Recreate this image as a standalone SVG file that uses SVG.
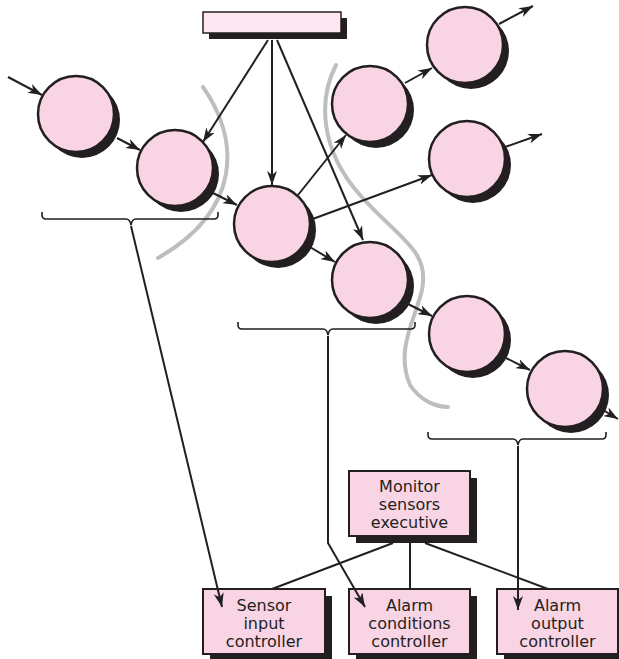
<svg xmlns="http://www.w3.org/2000/svg" width="619" height="659" viewBox="0 0 619 659">
<defs>
<style>
.shadow{fill:#231f20}
.node{fill:#f9d4e5;stroke:#231f20;stroke-width:2.5}
.box{fill:#f9d4e5;stroke:#231f20;stroke-width:2}
.bar{fill:#fde8f1;stroke:#231f20;stroke-width:1.5}
.edge{fill:none;stroke:#231f20;stroke-width:2}
.brace{fill:none;stroke:#231f20;stroke-width:1.6}
.curve{fill:none;stroke:#bcbec0;stroke-width:4;stroke-linecap:round}
.label{font-family:"DejaVu Sans","Liberation Sans",sans-serif;font-size:16px;fill:#231f20;text-anchor:middle}
</style>
<marker id="ah" viewBox="0 0 14 10" refX="14" refY="5" markerWidth="14" markerHeight="10" markerUnits="userSpaceOnUse" orient="auto">
<path d="M0,0 L14,5 L0,10 L4,5 z" fill="#231f20"/>
</marker>
</defs>
<rect width="619" height="659" fill="#ffffff"/>
<g id="partitions">
<path class="curve" d="M203,87 C240,140 242,210 158,258"/>
<path class="curve" d="M336,65 C318,100 320,150 360,195 C400,240 430,250 422,290 C415,320 395,350 410,385 C420,400 435,407 448,407"/>
</g>
<g id="source">
<rect class="shadow" x="209" y="18" width="138" height="21"/>
<rect class="bar" x="203" y="12" width="138" height="21"/>
</g>
<g id="c1"><circle class="shadow" cx="82" cy="120" r="38"/><circle class="node" cx="76" cy="114" r="38"/></g>
<g id="c2"><circle class="shadow" cx="181" cy="174" r="38"/><circle class="node" cx="175" cy="168" r="38"/></g>
<g id="c3"><circle class="shadow" cx="278" cy="230" r="38"/><circle class="node" cx="272" cy="224" r="38"/></g>
<g id="c4"><circle class="shadow" cx="376" cy="110" r="38"/><circle class="node" cx="370" cy="104" r="38"/></g>
<g id="c5"><circle class="shadow" cx="471" cy="51" r="38"/><circle class="node" cx="465" cy="45" r="38"/></g>
<g id="c6"><circle class="shadow" cx="473" cy="165" r="38"/><circle class="node" cx="467" cy="159" r="38"/></g>
<g id="c7"><circle class="shadow" cx="376" cy="286" r="38"/><circle class="node" cx="370" cy="280" r="38"/></g>
<g id="c8"><circle class="shadow" cx="473" cy="340" r="38"/><circle class="node" cx="467" cy="334" r="38"/></g>
<g id="c9"><circle class="shadow" cx="571" cy="395" r="38"/><circle class="node" cx="565" cy="389" r="38"/></g>
<g id="monitor">
<rect class="shadow" x="356" y="478" width="121" height="65"/>
<rect class="box" x="349" y="471" width="121" height="65"/>
<text class="label" x="409.5" y="492">Monitor</text>
<text class="label" x="409.5" y="510">sensors</text>
<text class="label" x="409.5" y="528">executive</text>
</g>
<g id="sensor-input">
<rect class="shadow" x="210" y="596" width="122" height="65"/>
<rect class="box" x="203" y="589" width="122" height="65"/>
<text class="label" x="264" y="611">Sensor</text>
<text class="label" x="264" y="629">input</text>
<text class="label" x="264" y="647">controller</text>
</g>
<g id="alarm-conditions">
<rect class="shadow" x="356" y="596" width="121" height="65"/>
<rect class="box" x="349" y="589" width="121" height="65"/>
<text class="label" x="409.5" y="611">Alarm</text>
<text class="label" x="409.5" y="629">conditions</text>
<text class="label" x="409.5" y="647">controller</text>
</g>
<g id="alarm-output">
<rect class="shadow" x="504" y="596" width="121" height="65"/>
<rect class="box" x="497" y="589" width="121" height="65"/>
<text class="label" x="557.5" y="611">Alarm</text>
<text class="label" x="557.5" y="629">output</text>
<text class="label" x="557.5" y="647">controller</text>
</g>
<g id="connectors">
<line class="edge" x1="8" y1="77" x2="42" y2="95" marker-end="url(#ah)"/>
<line class="edge" x1="117" y1="138" x2="140" y2="150" marker-end="url(#ah)"/>
<line class="edge" x1="268" y1="40" x2="203" y2="142" marker-end="url(#ah)"/>
<line class="edge" x1="272" y1="40" x2="272" y2="185" marker-end="url(#ah)"/>
<line class="edge" x1="277" y1="40" x2="363" y2="240" marker-end="url(#ah)"/>
<line class="edge" x1="213" y1="193" x2="237" y2="205" marker-end="url(#ah)"/>
<line class="edge" x1="298" y1="195" x2="346" y2="135" marker-end="url(#ah)"/>
<line class="edge" x1="310" y1="220" x2="432" y2="175" marker-end="url(#ah)"/>
<line class="edge" x1="310" y1="247" x2="335" y2="262" marker-end="url(#ah)"/>
<line class="edge" x1="405" y1="83" x2="432" y2="68" marker-end="url(#ah)"/>
<line class="edge" x1="499" y1="24" x2="533" y2="6" marker-end="url(#ah)"/>
<line class="edge" x1="505" y1="147" x2="542" y2="134" marker-end="url(#ah)"/>
<line class="edge" x1="408" y1="304" x2="432" y2="316" marker-end="url(#ah)"/>
<line class="edge" x1="506" y1="358" x2="530" y2="370" marker-end="url(#ah)"/>
<line class="edge" x1="603" y1="410" x2="618" y2="419" marker-end="url(#ah)"/>
<path class="brace" d="M42,212 L42,215 Q42,219 46,219 L126,219 Q130,219 131,225 Q132,219 136,219 L214,219 Q218,219 218,215 L218,212"/>
<path class="brace" d="M238,322 L238,325 Q238,329 242,329 L323,329 Q327,329 328,335 Q329,329 333,329 L411,329 Q415,329 415,325 L415,322"/>
<path class="brace" d="M428,432 L428,435 Q428,439 432,439 L513,439 Q517,439 518,445 Q519,439 523,439 L602,439 Q606,439 606,435 L606,432"/>
<line class="edge" x1="131" y1="226" x2="222" y2="607" marker-end="url(#ah)"/>
<path class="edge" d="M328,336 L328,543 L365,607" marker-end="url(#ah)"/>
<line class="edge" x1="518" y1="446" x2="518" y2="610" marker-end="url(#ah)"/>
<line class="edge" x1="393" y1="543" x2="272" y2="589"/>
<line class="edge" x1="410" y1="543" x2="410" y2="589"/>
<line class="edge" x1="425" y1="543" x2="548" y2="589"/>
</g>
</svg>
